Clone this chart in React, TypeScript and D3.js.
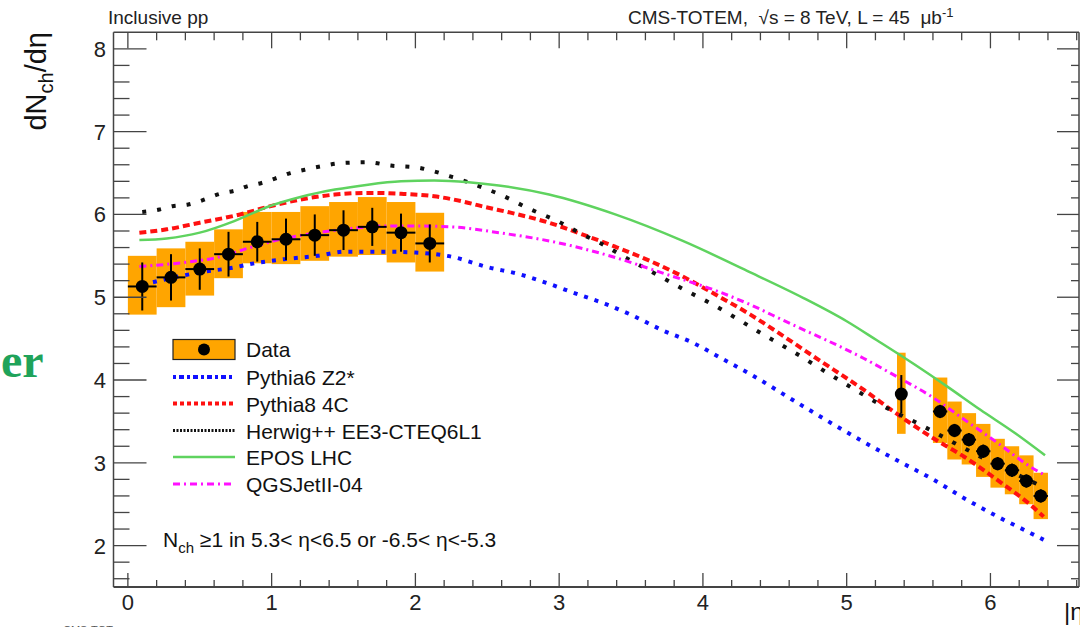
import React, { useEffect, useRef } from 'react';
import * as d3 from 'd3';

const W = 1080;
const H = 627;
const FONT = "'Liberation Sans', Arial, Helvetica, sans-serif";

// measured points, |eta| bin centres
const dataEta = [0.1, 0.3, 0.5, 0.7, 0.9, 1.1, 1.3, 1.5, 1.7, 1.9, 2.1, 5.38, 5.65, 5.75, 5.85, 5.95, 6.05, 6.15, 6.25, 6.35];
const dataVal = [5.13, 5.24, 5.34, 5.52, 5.67, 5.70, 5.75, 5.81, 5.85, 5.78, 5.65, 3.83, 3.62, 3.39, 3.28, 3.14, 2.99, 2.91, 2.78, 2.60];
const statErr = [0.29, 0.28, 0.25, 0.27, 0.24, 0.25, 0.25, 0.24, 0.23, 0.23, 0.23, 0.23, 0.08, 0.08, 0.08, 0.08, 0.08, 0.08, 0.08, 0.08];
const sysUp = [0.37, 0.35, 0.33, 0.30, 0.36, 0.33, 0.35, 0.34, 0.36, 0.37, 0.37, 0.50, 0.41, 0.35, 0.32, 0.33, 0.30, 0.29, 0.31, 0.28];
const sysDown = [0.34, 0.36, 0.32, 0.29, 0.26, 0.30, 0.31, 0.32, 0.34, 0.36, 0.34, 0.48, 0.38, 0.35, 0.30, 0.31, 0.29, 0.29, 0.28, 0.28];
const boxHalf = [0.1, 0.1, 0.1, 0.1, 0.1, 0.1, 0.1, 0.1, 0.1, 0.1, 0.1, 0.03, 0.05, 0.05, 0.05, 0.05, 0.05, 0.05, 0.05, 0.05];
const barHalf = [0.1, 0.1, 0.1, 0.1, 0.1, 0.1, 0.1, 0.1, 0.1, 0.1, 0.1, 0.0, 0.05, 0.05, 0.05, 0.05, 0.05, 0.05, 0.05, 0.05];

// model predictions [eta, dN/deta]
const pythia6: [number, number][] = [
  [0.1, 5.15], [0.27, 5.22], [0.5, 5.30], [0.74, 5.36], [0.85, 5.40], [1.09, 5.46], [1.32, 5.50],
  [1.51, 5.55], [1.79, 5.55], [2.0, 5.54], [2.25, 5.49], [2.51, 5.36], [2.72, 5.28], [2.9, 5.18],
  [3.09, 5.06], [3.32, 4.92], [3.51, 4.78], [3.72, 4.60], [3.93, 4.45], [4.12, 4.27], [4.33, 4.07],
  [4.7, 3.68], [5.12, 3.25], [5.35, 3.03], [5.59, 2.81], [5.82, 2.57], [6.05, 2.35], [6.28, 2.15], [6.37, 2.07],
];
const pythia8: [number, number][] = [
  [0.08, 5.78], [0.27, 5.82], [0.5, 5.90], [0.78, 6.0], [0.97, 6.09], [1.2, 6.18], [1.44, 6.24],
  [1.67, 6.26], [1.9, 6.25], [2.13, 6.22], [2.32, 6.16], [2.46, 6.10], [2.69, 6.01], [2.93, 5.90],
  [3.16, 5.76], [3.39, 5.61], [3.63, 5.44], [3.86, 5.25], [4.09, 5.03], [4.33, 4.79], [4.56, 4.53],
  [4.8, 4.25], [5.12, 3.88], [5.35, 3.59], [5.59, 3.31], [5.82, 3.07], [6.05, 2.79], [6.28, 2.49], [6.37, 2.35],
];
const herwig: [number, number][] = [
  [0.1, 6.03], [0.22, 6.06], [0.31, 6.10], [0.42, 6.12], [0.5, 6.16], [0.64, 6.25], [0.75, 6.29],
  [0.83, 6.34], [0.93, 6.38], [1.05, 6.45], [1.13, 6.50], [1.23, 6.54], [1.34, 6.58], [1.48, 6.62],
  [1.67, 6.63], [1.83, 6.59], [2.0, 6.57], [2.13, 6.52], [2.26, 6.45], [2.46, 6.33], [2.59, 6.24],
  [2.79, 6.07], [3.0, 5.91], [3.16, 5.76], [3.28, 5.66], [3.46, 5.48], [3.63, 5.32], [3.86, 5.10],
  [4.07, 4.91], [4.2, 4.78], [4.41, 4.56], [4.62, 4.35], [4.9, 4.05], [5.26, 3.68], [5.49, 3.48],
  [5.89, 3.11], [6.34, 2.73],
];
const epos: [number, number][] = [
  [0.08, 5.69], [0.27, 5.71], [0.5, 5.78], [0.74, 5.92], [0.97, 6.09], [1.2, 6.21], [1.44, 6.30],
  [1.67, 6.36], [1.9, 6.40], [2.13, 6.41], [2.37, 6.39], [2.58, 6.35], [2.93, 6.24], [3.39, 6.0],
  [3.86, 5.68], [4.33, 5.30], [4.7, 4.99], [5.0, 4.71], [5.21, 4.48], [5.47, 4.19], [5.7, 3.92],
  [5.93, 3.64], [6.17, 3.36], [6.38, 3.09],
];
const qgsjet: [number, number][] = [
  [0.08, 5.37], [0.39, 5.42], [0.62, 5.48], [0.85, 5.60], [1.09, 5.71], [1.32, 5.78], [1.55, 5.83],
  [1.79, 5.86], [2.02, 5.86], [2.25, 5.85], [2.58, 5.78], [3.04, 5.64], [3.39, 5.48], [3.74, 5.28],
  [4.09, 5.08], [4.33, 4.91], [4.56, 4.72], [5.12, 4.26], [5.35, 4.04], [5.59, 3.80], [5.82, 3.52],
  [6.05, 3.24], [6.28, 2.95], [6.38, 2.85],
];

const legendLabels = ['Pythia6 Z2*', 'Pythia8 4C', 'Herwig++ EE3-CTEQ6L1', 'EPOS LHC', 'QGSJetII-04'];
const xTickLabels = [0, 1, 2, 3, 4, 5, 6];
const yTickLabels = [2, 3, 4, 5, 6, 7, 8];

const models = [
  { pts: pythia6, color: '#1010ff', width: 4, dash: '4 7' },
  { pts: pythia8, color: '#ff1010', width: 4, dash: '7 4' },
  { pts: herwig, color: '#111111', width: 4, dash: '4 11' },
  { pts: epos, color: '#5fd35f', width: 2.5, dash: null },
  { pts: qgsjet, color: '#ff10ff', width: 3, dash: '7 4 2 4' },
];

const App = () => {
  const svgRef = useRef<SVGSVGElement>(null);

  useEffect(() => {
    const svg = d3.select(svgRef.current);
    svg.selectAll('*').remove();

    const left = 113.5, right = 1079, top = 32.3, bottom = 587;
    const x = d3.scaleLinear().domain([-0.1, 6.6]).range([left, 1076.7]);
    const y = d3.scaleLinear().domain([1.5, 8.2]).range([bottom, top]);

    svg.append('rect').attr('width', W).attr('height', H).attr('fill', 'white');

    const plot = svg.append('g');

    // systematic boxes
    plot.selectAll('rect.sys')
      .data(dataEta)
      .enter()
      .append('rect')
      .attr('x', (d, i) => x(d - boxHalf[i]))
      .attr('width', (d, i) => x(d + boxHalf[i]) - x(d - boxHalf[i]))
      .attr('y', (d, i) => y(dataVal[i] + sysUp[i]))
      .attr('height', (d, i) => y(dataVal[i] - sysDown[i]) - y(dataVal[i] + sysUp[i]))
      .attr('fill', '#ffa500');

    // model curves
    const line = d3.line<[number, number]>()
      .x(d => x(d[0]))
      .y(d => y(d[1]))
      .curve(d3.curveMonotoneX);

    models.forEach(m => {
      const p = plot.append('path')
        .attr('d', line(m.pts))
        .attr('fill', 'none')
        .attr('stroke', m.color)
        .attr('stroke-width', m.width);
      if (m.dash) p.attr('stroke-dasharray', m.dash);
    });

    // data points with stat errors
    const pts = plot.selectAll('g.pt').data(dataEta).enter().append('g');
    pts.append('line')
      .attr('x1', d => x(d)).attr('x2', d => x(d))
      .attr('y1', (d, i) => y(dataVal[i] - statErr[i]))
      .attr('y2', (d, i) => y(dataVal[i] + statErr[i]))
      .attr('stroke', '#000').attr('stroke-width', 2);
    pts.append('line')
      .attr('x1', (d, i) => x(d - barHalf[i])).attr('x2', (d, i) => x(d + barHalf[i]))
      .attr('y1', (d, i) => y(dataVal[i]))
      .attr('y2', (d, i) => y(dataVal[i]))
      .attr('stroke', '#000').attr('stroke-width', 2);
    pts.append('circle')
      .attr('cx', d => x(d))
      .attr('cy', (d, i) => y(dataVal[i]))
      .attr('r', 6.5)
      .attr('fill', '#000');

    // frame
    const axisCol = '#444';
    svg.append('line').attr('x1', left).attr('x2', left).attr('y1', top).attr('y2', bottom)
      .attr('stroke', axisCol).attr('stroke-width', 1.5);
    svg.append('line').attr('x1', left).attr('x2', right).attr('y1', top).attr('y2', top)
      .attr('stroke', axisCol).attr('stroke-width', 1.5);
    svg.append('line').attr('x1', left).attr('x2', right).attr('y1', bottom).attr('y2', bottom)
      .attr('stroke', axisCol).attr('stroke-width', 2);
    svg.append('line').attr('x1', right).attr('x2', right).attr('y1', top).attr('y2', bottom)
      .attr('stroke', axisCol).attr('stroke-width', 1.5);

    const isMajor = (v: number) => Math.abs(v - Math.round(v)) < 1e-6;

    // x ticks
    const xt = d3.range(0, 6.61, 0.2);
    xt.forEach(v => {
      const px = x(v);
      const maj = isMajor(v);
      svg.append('line').attr('x1', px).attr('x2', px)
        .attr('y1', bottom).attr('y2', bottom - (maj ? 14 : 7))
        .attr('stroke', axisCol).attr('stroke-width', 1.3);
      svg.append('line').attr('x1', px).attr('x2', px)
        .attr('y1', top).attr('y2', top + (maj ? 16 : 8))
        .attr('stroke', axisCol).attr('stroke-width', 1.3);
    });

    // y ticks
    const yt = d3.range(1.6, 8.01, 0.2);
    yt.forEach(v => {
      const py = y(v);
      const maj = isMajor(v);
      svg.append('line').attr('x1', left).attr('x2', left + (maj ? 33 : 16))
        .attr('y1', py).attr('y2', py)
        .attr('stroke', axisCol).attr('stroke-width', 1.3);
      svg.append('line').attr('x1', right).attr('x2', right - (maj ? 22 : 8))
        .attr('y1', py).attr('y2', py)
        .attr('stroke', axisCol).attr('stroke-width', 1.3);
    });

    // tick labels
    svg.selectAll('text.xl').data(xTickLabels).enter().append('text')
      .attr('x', d => x(d)).attr('y', 610)
      .attr('text-anchor', 'middle')
      .style('font-family', FONT).style('font-size', '22px').attr('fill', '#222')
      .text(d => d);
    svg.selectAll('text.yl').data(yTickLabels).enter().append('text')
      .attr('x', 106).attr('y', d => y(d) + 8)
      .attr('text-anchor', 'end')
      .style('font-family', FONT).style('font-size', '22px').attr('fill', '#222')
      .text(d => d);

    // axis titles
    const yTitle = svg.append('text')
      .attr('transform', 'translate(46,32) rotate(-90)')
      .attr('text-anchor', 'end')
      .style('font-family', FONT).style('font-size', '29px').attr('fill', '#111');
    yTitle.append('tspan').text('dN');
    yTitle.append('tspan').attr('dy', 7).style('font-size', '20px').text('ch');
    yTitle.append('tspan').attr('dy', -7).text('/d\u03b7');

    svg.append('text').attr('x', 1064).attr('y', 620)
      .style('font-family', FONT).style('font-size', '24px').attr('fill', '#111')
      .text('|\u03b7|');

    // header texts
    svg.append('text').attr('x', 108).attr('y', 24)
      .style('font-family', FONT).style('font-size', '19px').attr('fill', '#222')
      .text('Inclusive pp');
    const hdr = svg.append('text').attr('x', 628).attr('y', 24)
      .style('font-family', FONT).style('font-size', '19px').attr('fill', '#222')
      .attr('xml:space', 'preserve');
    hdr.append('tspan').text('CMS-TOTEM,  \u221As = 8 TeV, L = 45  \u03bcb');
    hdr.append('tspan').attr('dy', -7).style('font-size', '13px').text('-1');

    // legend
    const lx0 = 173, lx1 = 235, tx = 246;
    svg.append('rect').attr('x', lx0).attr('y', 339.5).attr('width', lx1 - lx0).attr('height', 20)
      .attr('fill', '#ffa500').attr('stroke', '#222').attr('stroke-width', 1.2);
    svg.append('circle').attr('cx', (lx0 + lx1) / 2).attr('cy', 349.5).attr('r', 6).attr('fill', '#000');
    svg.append('text').attr('x', tx).attr('y', 357)
      .style('font-family', FONT).style('font-size', '21px').attr('fill', '#111')
      .text('Data');
    const rowY = [377, 403.5, 430.5, 457, 484];
    models.forEach((m, i) => {
      const l = svg.append('line').attr('x1', lx0).attr('x2', lx1)
        .attr('y1', rowY[i]).attr('y2', rowY[i])
        .attr('stroke', m.color).attr('stroke-width', i === 2 ? 3 : m.width);
      if (i === 0) l.attr('stroke-dasharray', '3 3 5 3');
      else if (i === 2) l.attr('stroke-dasharray', '2 1.5');
      else if (m.dash) l.attr('stroke-dasharray', m.dash === '7 4' ? '4 3' : m.dash);
      svg.append('text').attr('x', tx).attr('y', rowY[i] + 8)
        .style('font-family', FONT).style('font-size', '21px').attr('fill', '#111')
        .text(legendLabels[i]);
    });

    // selection note
    const note = svg.append('text').attr('x', 163).attr('y', 547)
      .style('font-family', FONT).style('font-size', '21px').attr('fill', '#111');
    note.append('tspan').text('N');
    note.append('tspan').attr('dy', 6).style('font-size', '15px').text('ch');
    note.append('tspan').attr('dy', -6).text(' \u22651 in 5.3< \u03b7<6.5 or -6.5< \u03b7<-5.3');

    // slide fragments around the figure
    svg.append('text').attr('x', 1).attr('y', 377)
      .style('font-family', "'Liberation Serif', 'DejaVu Serif', serif")
      .style('font-size', '48px').style('font-weight', 'bold').attr('fill', '#1fa35a')
      .text('er');
    svg.append('text').attr('x', 63).attr('y', 634)
      .style('font-family', FONT).style('font-size', '11px').attr('fill', '#555')
      .text('CMS-TOT');
  }, []);

  return (
    <svg
      ref={svgRef}
      width={W}
      height={H}
      style={{ position: 'absolute', left: 0, top: 0, display: 'block' }}
    />
  );
};

export default App;
